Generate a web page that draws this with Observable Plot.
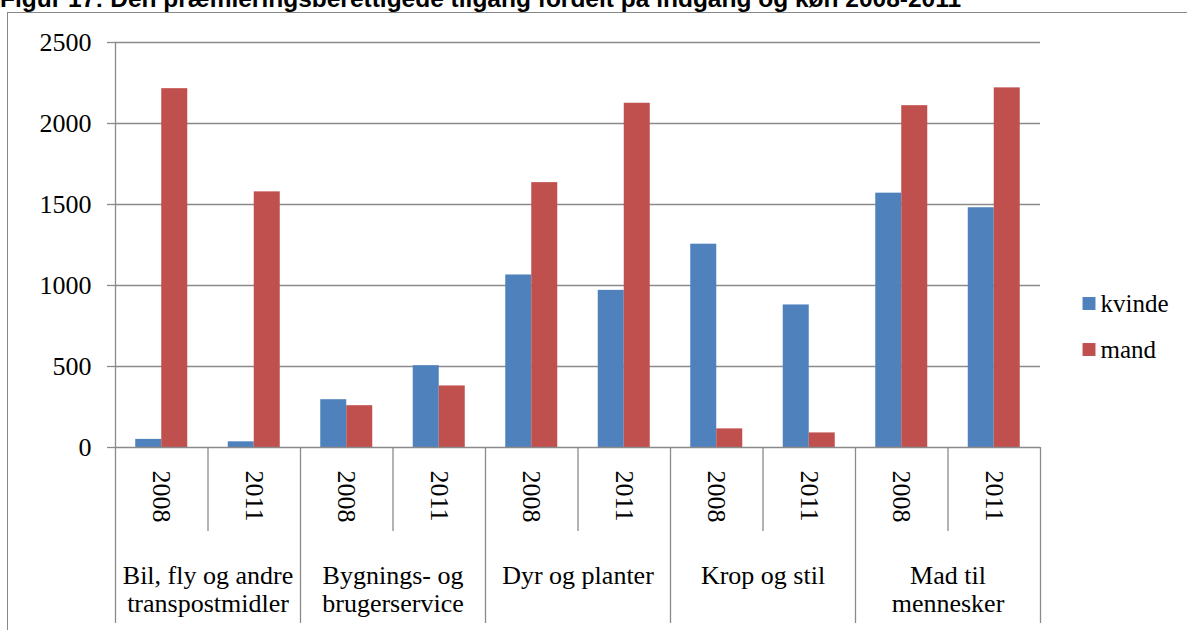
<!DOCTYPE html>
<html><head><meta charset="utf-8">
<script src="https://cdn.jsdelivr.net/npm/d3@7"></script>
<script src="https://cdn.jsdelivr.net/npm/@observablehq/plot@0.6"></script>
<style>
html,body{margin:0;padding:0;background:#fff;overflow:hidden;width:1187px;height:630px;}
#wrap{position:relative;width:1187px;height:630px;overflow:hidden;}
#title{position:absolute;left:0px;top:-11px;font-family:"Liberation Sans",Arial,sans-serif;font-weight:bold;font-size:24.5px;line-height:19px;white-space:nowrap;color:#000;}
#border{position:absolute;left:7px;top:12px;width:1400px;height:800px;border-left:1.5px solid #888;border-top:1.5px solid #888;}
#chart{position:absolute;left:0;top:0;}
</style>
</head><body>
<div id="wrap">
  <div id="title">Figur 17: Den præmieringsberettigede tilgang fordelt på indgang og køn 2008-2011</div>
  <div id="border"></div>
  <div id="chart"></div>
</div>
<script>
const groups = ["Bil, fly og andre\ntranspostmidler", "Bygnings- og\nbrugerservice", "Dyr og planter", "Krop og stil", "Mad til\nmennesker"];
const years = ["2008", "2011"];
const series = ["kvinde", "mand"];
const colors = ["#4F81BD", "#C0504D"];
const kvinde = [50, 35, 295, 505, 1065, 970, 1255, 880, 1570, 1480];
const mand = [2215, 1578, 258, 380, 1635, 2125, 115, 90, 2110, 2220];
const yTicks = [0, 500, 1000, 1500, 2000, 2500];

const slots = groups.flatMap((g, gi) => years.map((y, yi) => ({group: g, year: y, slot: gi * years.length + yi})));
const rows = slots.flatMap(s => [
  {...s, sex: "kvinde", value: kvinde[s.slot]},
  {...s, sex: "mand", value: mand[s.slot]}
]);
const nSlots = slots.length;
const bounds = d3.range(nSlots + 1);
const groupBounds = bounds.filter(b => b > 0 && b % years.length === 0);
const yearBounds = bounds.filter(b => b % years.length !== 0);
const groupLabels = groups.map((g, i) => ({text: g, x: i * years.length + years.length / 2}));

const serif = '"Liberation Serif", "Times New Roman", serif';
const grid = "#8a8a8a";
const sw = 1.3;

// legend entries, drawn inside the plot to the right of the frame
const legendMarks = series.flatMap((s, i) => [
  Plot.dot([s], {frameAnchor: "right", fill: d => d, symbol: "square", r: 7.3, dx: 48.5, dy: 58.5 + i * 46}),
  Plot.text([s], {frameAnchor: "right", text: d => d, textAnchor: "start", fontSize: 25, fill: "#000", dx: 60, dy: 58.5 + i * 46})
]);

const plot = Plot.plot({
  width: 1187, height: 630,
  marginLeft: 115, marginRight: 147, marginTop: 42, marginBottom: 183,
  x: {domain: [0, nSlots], axis: null},
  y: {domain: [0, 2500], axis: null},
  color: {domain: series, range: colors},
  style: {fontFamily: serif, fontSize: "26px", color: "#000", background: "transparent", overflow: "visible"},
  marks: [
    Plot.gridY(yTicks.filter(t => t > 0), {stroke: grid, strokeOpacity: 1, strokeWidth: sw}),
    Plot.rectY(rows.filter(d => d.sex === "kvinde"), {x1: "slot", x2: d => d.slot + 0.5, y1: 0, y2: "value", fill: "sex", insetLeft: 20.25}),
    Plot.rectY(rows.filter(d => d.sex === "mand"), {x1: d => d.slot + 0.5, x2: d => d.slot + 1, y1: 0, y2: "value", fill: "sex", insetRight: 20.25}),
    Plot.ruleY([0], {stroke: grid, strokeWidth: sw}),
    Plot.ruleX([0], {stroke: grid, strokeWidth: sw, insetBottom: -176}),
    Plot.ruleX(groupBounds, {stroke: grid, strokeWidth: sw, insetTop: 405, insetBottom: -176}),
    Plot.ruleX(yearBounds, {stroke: grid, strokeWidth: sw, insetTop: 405, insetBottom: -84}),
    Plot.axisY({ticks: yTicks, tickFormat: d3.format("d"), tickSize: 8, tickPadding: 16, stroke: grid, strokeWidth: sw, fontSize: 26, label: null}),
    Plot.text(slots, {x: d => d.slot + 0.5, text: "year", frameAnchor: "bottom", rotate: 90, textAnchor: "start", lineAnchor: "middle", dy: 23, fontSize: 26, fill: "#000"}),
    Plot.text(groupLabels, {x: "x", text: "text", frameAnchor: "bottom", lineAnchor: "top", textAnchor: "middle", dy: 116.5, lineHeight: 1.08, fontSize: 26, fill: "#000"}),
    ...legendMarks
  ]
});
document.getElementById("chart").appendChild(plot);
</script>
</body></html>
